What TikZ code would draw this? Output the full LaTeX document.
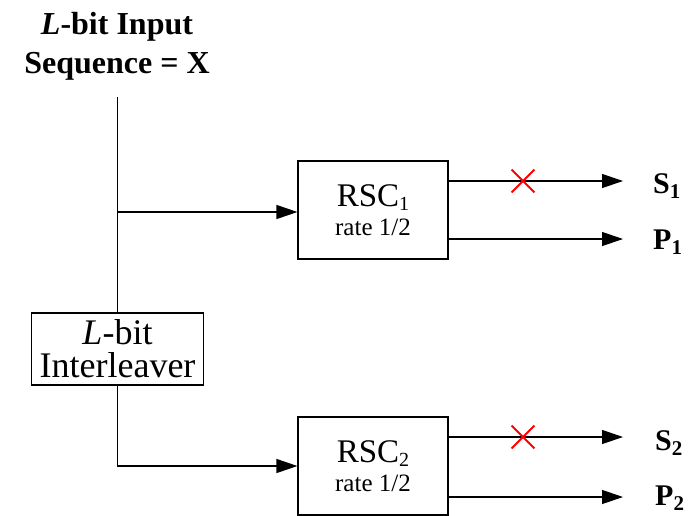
\documentclass[tikz,border=0pt]{standalone}
\usepackage{fontspec}
\setmainfont{Liberation Serif}
\usetikzlibrary{arrows.meta,positioning,shapes.misc}
\tikzset{wire/.style={line width=1.2pt},sig/.style={wire,-{Triangle[length=21pt,width=14pt]}},codebox/.style={draw,line width=1.2pt,minimum width=150pt,minimum height=98pt,inner sep=0pt,align=center,font=\fontsize{33}{29}\selectfont},leaverbox/.style={draw,line width=1.2pt,minimum width=172pt,minimum height=72pt,inner sep=0pt,align=center,font=\fontsize{36}{33}\selectfont},headlbl/.style={align=center,inner sep=0pt,font=\fontsize{32}{39}\selectfont\bfseries},outlbl/.style={anchor=base west,inner sep=0pt,font=\fontsize{30}{36}\selectfont\bfseries},cut/.style={cross out,draw=red,line width=1.8pt,minimum size=21pt,inner sep=0pt}}
\newcommand{\ratetxt}{{\fontsize{25}{28}\selectfont rate 1/2}}
\newcommand{\encsub}[1]{\raisebox{-4pt}{\fontsize{20}{20}\selectfont #1}}

\begin{document}
\begin{tikzpicture}[x=1pt,y=-1pt]
\useasboundingbox (0,0) rectangle (691,515);
% input and interleaver
\node[headlbl] (head) at (117,46) {\textit{L}-bit Input\\Sequence = X};
\coordinate (top) at (117.5,97);
\coordinate (split) at (117.5,212);
\node[leaverbox] (leaver) at (117.5,349) {\textit{L}-bit\\Interleaver};
% the two encoders
\node[codebox] (rsc1) at (373,210) {RSC\encsub{1}\\\ratetxt};
\node[codebox] (rsc2) at (373,466) {RSC\encsub{2}\\\ratetxt};
\draw[wire] (top) -- (leaver.north);
\draw[sig] (split) -- (split -| rsc1.west);
\draw[sig] (leaver.south) |- (rsc2.west);
% outputs
\node[outlbl] (s1) at (653,193) {S\textsubscript{1}};
\node[outlbl] (p1) at (653,249) {P\textsubscript{1}};
\node[outlbl] (s2) at (655,450) {S\textsubscript{2}};
\node[outlbl] (p2) at (655,505) {P\textsubscript{2}};
\draw[sig,shorten >=30pt] ([yshift=29pt]rsc1.east) -- ([yshift=29pt]rsc1.east -| s1.west);
\draw[sig,shorten >=30pt] ([yshift=-29pt]rsc1.east) -- ([yshift=-29pt]rsc1.east -| p1.west);
\draw[sig,shorten >=32pt] ([yshift=29pt]rsc2.east) -- ([yshift=29pt]rsc2.east -| s2.west);
\draw[sig,shorten >=32pt] ([yshift=-31pt]rsc2.east) -- ([yshift=-31pt]rsc2.east -| p2.west);
\node[cut] (cut1) at (523,181) {};
\node[cut] (cut2) at (523,437) {};
\end{tikzpicture}
\end{document}
